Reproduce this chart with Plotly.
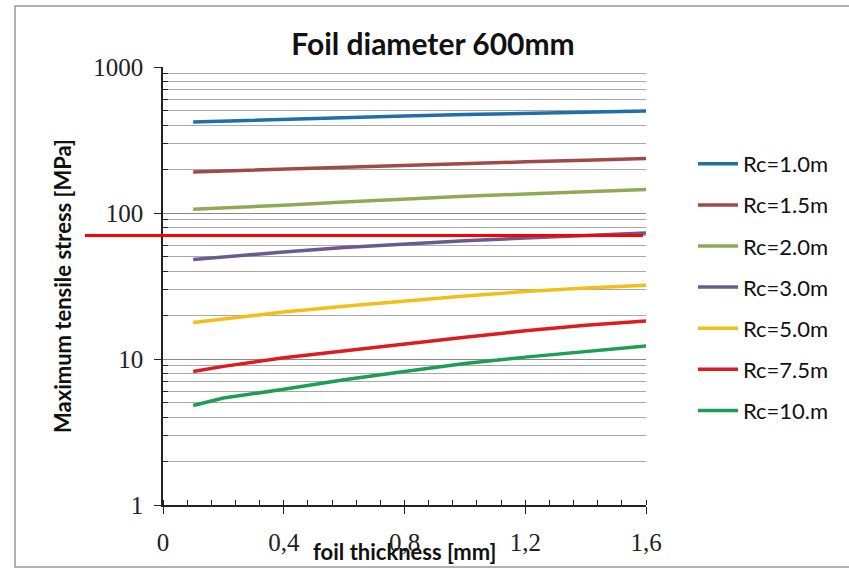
import plotly.graph_objects as go

# ---- data ----
thickness = [0.1, 0.2, 0.4, 0.6, 0.8, 1.0, 1.2, 1.4, 1.6]
series_names = ["Rc=1.0m", "Rc=1.5m", "Rc=2.0m", "Rc=3.0m", "Rc=5.0m", "Rc=7.5m", "Rc=10.m"]
rc_1_0 = [420, 426, 440, 451, 462, 472, 482, 491, 500]
rc_1_5 = [191, 194, 200, 205, 211, 218, 224, 230, 236]
rc_2_0 = [106, 108, 113, 119, 125, 130, 135, 140, 145]
rc_3_0 = [48, 50, 54, 58, 61.5, 64.5, 67.5, 70.5, 73]
rc_5_0 = [17.8, 18.8, 21, 23, 25, 27, 29, 30.7, 32]
rc_7_5 = [8.2, 8.9, 10.2, 11.4, 12.7, 14.1, 15.6, 17.0, 18.2]
rc_10 = [4.8, 5.4, 6.2, 7.2, 8.2, 9.3, 10.3, 11.3, 12.3]
series_values = [rc_1_0, rc_1_5, rc_2_0, rc_3_0, rc_5_0, rc_7_5, rc_10]
colors = ["#1F6FA8", "#A04A48", "#8FAA55", "#6A5A8F", "#F2BE1A", "#DD1C22", "#1E9E55"]
stress_limit = 70
x_tick_vals = [0, 0.4, 0.8, 1.2, 1.6]
x_tick_text = ["0", "0,4", "0,8", "1,2", "1,6"]
y_tick_vals = [1, 10, 100, 1000]
y_tick_text = ["1", "10", "100", "1000"]
y_minor_vals = [m * d for d in (1, 10, 100) for m in range(2, 10)]

W, H = 849, 569
ML, MR, MT, MB = 163, 203, 67, 64
plot_w = W - ML - MR
plot_h = H - MT - MB

fig = go.Figure()
for i, (name, vals) in enumerate(zip(series_names, series_values)):
    fig.add_trace(go.Scatter(
        x=thickness, y=vals, mode="lines", name=name,
        line=dict(color=colors[i], width=3.5),
        legendgroup=f"g{i}",
    ))

x0_paper = (85 - ML) / plot_w
x1_paper = (643 - ML) / plot_w

fig.update_layout(
    width=W, height=H,
    margin=dict(l=ML, r=MR, t=MT, b=MB, autoexpand=False),
    paper_bgcolor="white", plot_bgcolor="white",
    title=dict(text="<b>Foil diameter 600mm</b>", x=433 / W, xanchor="center",
               y=1 - 44 / H, yanchor="middle",
               font=dict(family="Lato", size=30, color="#111")),
    xaxis=dict(
        range=[0, 1.6], showgrid=False, zeroline=False, automargin=False,
        showline=True, linecolor="#222", linewidth=1.5,
        tickvals=x_tick_vals, ticktext=x_tick_text,
        ticks="outside", ticklen=7, tickwidth=1.3, tickcolor="#222",
        minor=dict(dtick=0.08, ticks="inside", ticklen=5, tickcolor="#222", showgrid=False),
        tickfont=dict(family="Liberation Serif", size=25, color="#222"),
        ticklabelstandoff=7,
    ),
    yaxis=dict(
        type="log", range=[0, 3], zeroline=False, automargin=False,
        showline=True, linecolor="#222", linewidth=1.5,
        tickvals=y_tick_vals, ticktext=y_tick_text,
        ticks="outside", ticklen=7, tickwidth=1.3, tickcolor="#222",
        showgrid=True, gridcolor="#8a8a8a", gridwidth=1,
        minor=dict(tickvals=y_minor_vals, ticks="inside", ticklen=5, tickcolor="#222",
                   showgrid=True, gridcolor="#a8a8a8", gridwidth=1),
        tickfont=dict(family="Liberation Serif", size=25, color="#222"),
        ticklabelstandoff=6,
    ),
    legend=dict(
        x=(693 - ML) / plot_w, xanchor="left",
        y=1 - (143 - MT) / plot_h, yanchor="top",
        font=dict(family="Lato", size=22, color="#111"),
        tracegroupgap=9.5, itemwidth=40,
        bgcolor="rgba(0,0,0,0)",
    ),
    showlegend=True,
)

# threshold line
fig.add_shape(type="line", xref="paper", yref="y",
              x0=x0_paper, x1=x1_paper, y0=stress_limit, y1=stress_limit,
              line=dict(color="#FF0000", width=3))

# axis titles
fig.add_annotation(text="<b>foil thickness [mm]</b>", xref="paper", yref="paper",
                   x=0.5, y=-(551 - (H - MB)) / plot_h, yanchor="middle",
                   showarrow=False, font=dict(family="Lato", size=22, color="#111"))
fig.add_annotation(text="<b>Maximum tensile stress [MPa]</b>", xref="paper", yref="paper",
                   x=-(ML - 62) / plot_w, xanchor="center", y=0.5, textangle=-90,
                   showarrow=False, font=dict(family="Lato", size=22, color="#111"))

# outer border
fig.add_shape(type="rect", xref="paper", yref="paper",
              x0=-(ML - 15) / plot_w, x1=(W + 5 - ML) / plot_w,
              y0=-(MB - 2) / plot_h, y1=1 + (MT - 6) / plot_h,
              line=dict(color="#999", width=1.5))

fig.write_html("out.html", config={"displayModeBar": False},
               post_script="document.body.style.margin='0';document.body.style.padding='0';")
